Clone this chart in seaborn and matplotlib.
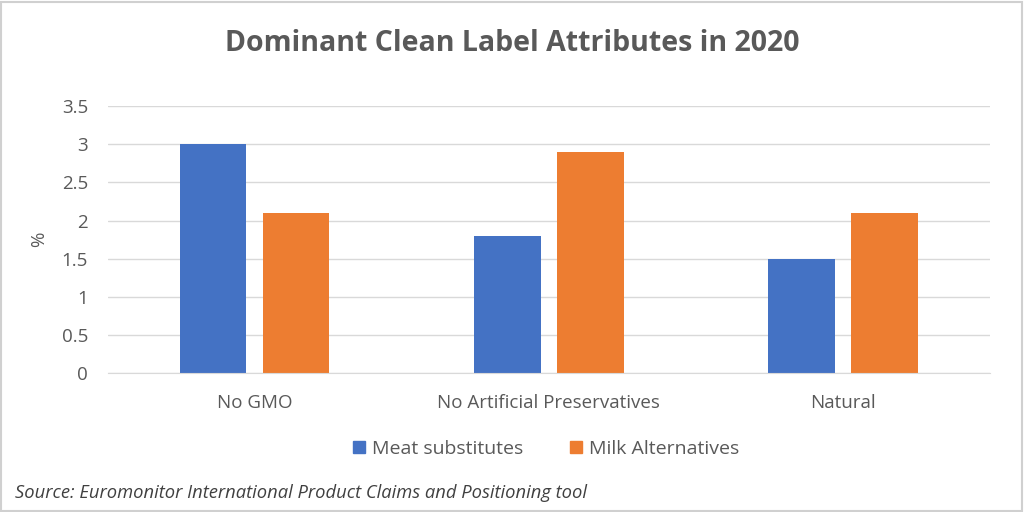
import matplotlib
matplotlib.use('Agg')
import matplotlib.pyplot as plt
import pandas as pd
import seaborn as sns

categories = ['No GMO', 'No Artificial Preservatives', 'Natural']
series_names = ['Meat substitutes', 'Milk Alternatives']
meat_values = [3.0, 1.8, 1.5]
milk_values = [2.1, 2.9, 2.1]
y_ticks = [0, 0.5, 1, 1.5, 2, 2.5, 3, 3.5]
colors = ['#4472C4', '#ED7D31']

df = pd.DataFrame({
    'attribute': categories * 2,
    'series': [series_names[0]] * 3 + [series_names[1]] * 3,
    'value': meat_values + milk_values,
})

sns.set_style('white')
plt.rcParams['font.family'] = ['Open Sans', 'DejaVu Sans']

fig = plt.figure(figsize=(10.24, 5.12), dpi=100)
ax = fig.add_axes([0.105, 0.271, 0.862, 0.522])
sns.barplot(x='attribute', y='value', hue='series', data=df, order=categories,
            hue_order=series_names, palette=colors, saturation=1,
            width=0.565, gap=0.2, linewidth=0, ax=ax, legend=False)

ax.set_ylim(0, 3.5)
ax.set_yticks(y_ticks)
ax.set_yticklabels([f'{t:g}' for t in y_ticks])
ax.yaxis.grid(True, color='#D9D9D9', linewidth=1)
ax.set_axisbelow(True)
for s in ['top', 'right', 'left']:
    ax.spines[s].set_visible(False)
ax.spines['bottom'].set_color('#D9D9D9')
ax.tick_params(axis='both', colors='#595959', labelsize=13.5, length=0)
ax.tick_params(axis='x', pad=15)
ax.tick_params(axis='y', pad=14)
ax.set_xlabel('')
ax.set_ylabel('%', fontsize=13.5, color='#595959', labelpad=10)

fig.text(0.5, 0.916, 'Dominant Clean Label Attributes in 2020', ha='center', va='center',
         fontsize=20.5, fontweight='bold', color='#595959')

handles = [plt.Rectangle((0, 0), 1, 1, color=c) for c in colors]
leg = fig.legend(handles, series_names, loc='center', bbox_to_anchor=(0.533, 0.123), ncol=2,
                 frameon=False, fontsize=14, handlelength=0.62, handleheight=0.62,
                 columnspacing=2.4, handletextpad=0.36)
for t in leg.get_texts():
    t.set_color('#595959')

fig.text(0.015, 0.037, 'Source: Euromonitor International Product Claims and Positioning tool',
         ha='left', va='center', fontsize=13.2, style='italic', color='#404040')

fig.patches.append(plt.Rectangle((0.001, 0.002), 0.997, 0.995, transform=fig.transFigure,
                                 fill=False, edgecolor='#D0D0D0', linewidth=1.5))

fig.savefig('out.png', dpi=100)
